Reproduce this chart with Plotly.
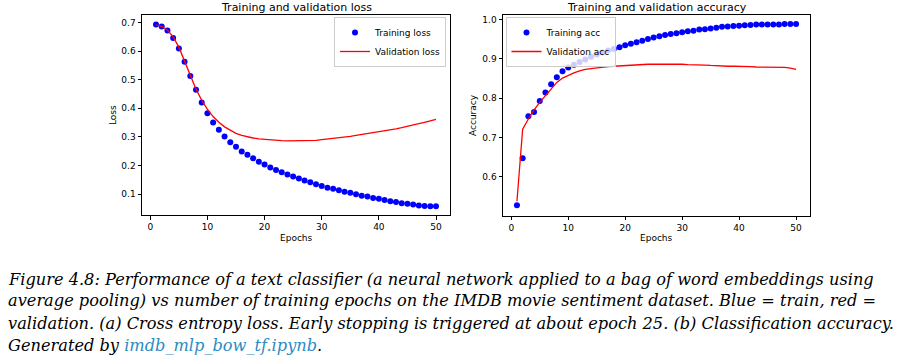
import plotly.graph_objects as go

epochs = list(range(1, 51))

train_loss = [0.693, 0.686, 0.672, 0.646, 0.609, 0.563, 0.513, 0.465, 0.420, 0.383,
              0.350, 0.325, 0.301, 0.281, 0.265, 0.249, 0.237, 0.225, 0.213, 0.203,
              0.193, 0.184, 0.176, 0.168, 0.161, 0.154, 0.147, 0.141, 0.134, 0.128,
              0.122, 0.118, 0.113, 0.108, 0.104, 0.099, 0.094, 0.091, 0.086, 0.083,
              0.079, 0.075, 0.072, 0.068, 0.066, 0.063, 0.060, 0.058, 0.057, 0.057]

val_loss = [0.692, 0.687, 0.674, 0.650, 0.614, 0.567, 0.516, 0.467, 0.428, 0.396,
            0.371, 0.351, 0.335, 0.322, 0.312, 0.305, 0.300, 0.296, 0.293, 0.291,
            0.289, 0.288, 0.287, 0.286, 0.286, 0.286, 0.286, 0.287, 0.288, 0.290,
            0.292, 0.294, 0.297, 0.300, 0.302, 0.305, 0.308, 0.311, 0.314, 0.317,
            0.320, 0.324, 0.328, 0.332, 0.336, 0.341, 0.346, 0.351, 0.356, 0.361]

train_acc = [0.528, 0.647, 0.754, 0.765, 0.793, 0.814, 0.835, 0.853, 0.868, 0.878,
             0.885, 0.892, 0.898, 0.905, 0.911, 0.916, 0.921, 0.925, 0.929, 0.934,
             0.938, 0.942, 0.946, 0.950, 0.954, 0.957, 0.960, 0.963, 0.965, 0.967,
             0.970, 0.971, 0.974, 0.975, 0.977, 0.979, 0.981, 0.982, 0.983, 0.984,
             0.985, 0.986, 0.987, 0.987, 0.987, 0.987, 0.987, 0.988, 0.988, 0.988]

val_acc = [0.538, 0.721, 0.747, 0.770, 0.789, 0.807, 0.825, 0.840, 0.851, 0.858,
           0.864, 0.869, 0.873, 0.875, 0.877, 0.879, 0.880, 0.881, 0.882, 0.883,
           0.884, 0.884, 0.885, 0.886, 0.886, 0.886, 0.887, 0.887, 0.886, 0.886,
           0.885, 0.885, 0.884, 0.884, 0.883, 0.882, 0.882, 0.881, 0.881, 0.881,
           0.880, 0.880, 0.879, 0.879, 0.879, 0.878, 0.878, 0.878, 0.876, 0.873]

x_ticks = [0, 10, 20, 30, 40, 50]
loss_ticks = [0.1, 0.2, 0.3, 0.4, 0.5, 0.6, 0.7]
acc_ticks = [0.6, 0.7, 0.8, 0.9, 1.0]

titles = ["Training and validation loss", "Training and validation accuracy"]
y_titles = ["Loss", "Accuracy"]
x_title = "Epochs"

caption_lines = [
    "Figure 4.8: Performance of a text classifier (a neural network applied to a bag of word embeddings using",
    "average pooling) vs number of training epochs on the IMDB movie sentiment dataset. Blue = train, red =",
    "validation. (a) Cross entropy loss. Early stopping is triggered at about epoch 25. (b) Classification accuracy.",
    "Generated by <span style='color:#2b8cc4'>imdb_mlp_bow_tf.ipynb</span>.",
]

W, H = 899, 363


def px(x):
    return x / W


def py(y):
    return 1 - y / H


FONT = "DejaVu Sans"
CAP_FONT = "DejaVu Serif"
CAP_SIZE = 16.2

fig = go.Figure()

fig.add_trace(go.Scatter(x=epochs, y=train_loss, mode="markers", name="Training loss",
                         marker=dict(color="blue", size=6), xaxis="x", yaxis="y",
                         legend="legend"))
fig.add_trace(go.Scatter(x=epochs, y=val_loss, mode="lines", name="Validation loss",
                         line=dict(color="red", width=1.3), xaxis="x", yaxis="y",
                         legend="legend"))
fig.add_trace(go.Scatter(x=epochs, y=train_acc, mode="markers", name="Training acc",
                         marker=dict(color="blue", size=6), xaxis="x2", yaxis="y2",
                         legend="legend2"))
fig.add_trace(go.Scatter(x=epochs, y=val_acc, mode="lines", name="Validation acc",
                         line=dict(color="red", width=1.3), xaxis="x2", yaxis="y2",
                         legend="legend2"))

axis_common = dict(showline=True, mirror=True, linecolor="black", linewidth=1,
                   ticks="outside", ticklen=3.5, tickwidth=0.8, tickcolor="black",
                   showgrid=False, zeroline=False,
                   tickfont=dict(family=FONT, size=9, color="black"))

xr = [-1.45, 52.45]
fig.update_layout(
    width=W, height=H,
    margin=dict(l=0, r=0, t=0, b=0),
    paper_bgcolor="white", plot_bgcolor="white",
    font=dict(family=FONT, size=9, color="black"),
    xaxis=dict(domain=[px(142), px(450)], range=xr, tickvals=x_ticks, anchor="y", **axis_common),
    yaxis=dict(domain=[py(215), py(15)], range=[0.0265, 0.7265], tickvals=loss_ticks,
               tickformat=".1f", anchor="x", **axis_common),
    xaxis2=dict(domain=[px(503), px(810)], range=xr, tickvals=x_ticks, anchor="y2", **axis_common),
    yaxis2=dict(domain=[py(215.5), py(15)], range=[0.5019, 1.0111], tickvals=acc_ticks,
                tickformat=".1f", anchor="x2", **axis_common),
    legend=dict(x=px(446), y=py(17), xanchor="right", yanchor="top",
                bgcolor="rgba(255,255,255,0.8)", bordercolor="#cccccc", borderwidth=1,
                font=dict(family=FONT, size=9, color="black")),
    legend2=dict(x=px(505.5), y=py(17), xanchor="left", yanchor="top",
                 bgcolor="rgba(255,255,255,0.8)", bordercolor="#cccccc", borderwidth=1,
                 font=dict(family=FONT, size=9, color="black")),
)

annotations = []
# subplot titles
for t, cx in zip(titles, [296, 656.5]):
    annotations.append(dict(text=t, x=px(cx), y=1, xref="paper", yref="paper",
                            xanchor="center", yanchor="top", showarrow=False, borderpad=0,
                            font=dict(family=FONT, size=11, color="black")))
# axis titles
annotations.append(dict(text=y_titles[0], x=px(113), y=py(115), xref="paper", yref="paper",
                        xanchor="center", yanchor="middle", textangle=-90, showarrow=False,
                        font=dict(family=FONT, size=9, color="black")))
annotations.append(dict(text=y_titles[1], x=px(473), y=py(115), xref="paper", yref="paper",
                        xanchor="center", yanchor="middle", textangle=-90, showarrow=False,
                        font=dict(family=FONT, size=9, color="black")))
for cx in [296, 656.5]:
    annotations.append(dict(text=x_title, x=px(cx), y=py(238), xref="paper", yref="paper",
                            xanchor="center", yanchor="middle", showarrow=False,
                            font=dict(family=FONT, size=9, color="black")))
# caption
baselines = [284.7, 306.5, 328.7, 351.0]
for line, bl in zip(caption_lines, baselines):
    cy = bl - 0.35 * CAP_SIZE
    annotations.append(dict(text="<i>" + line + "</i>", x=px(7), y=py(cy), xref="paper", yref="paper",
                            xanchor="left", yanchor="middle", showarrow=False, align="left",
                            borderpad=0,
                            font=dict(family=CAP_FONT, size=CAP_SIZE, color="black")))

fig.update_layout(annotations=annotations)

fig.write_html("out.html", config={"displayModeBar": False},
               post_script="document.body.style.margin='0px';")
